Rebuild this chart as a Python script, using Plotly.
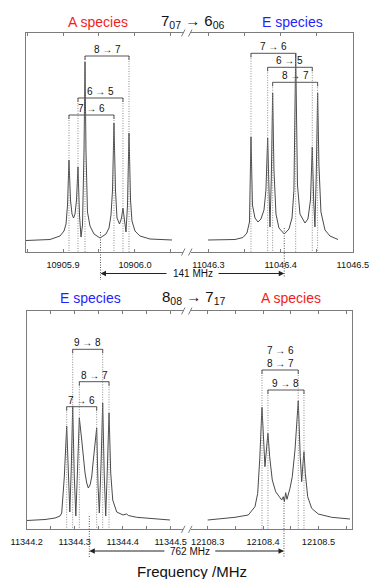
import plotly.graph_objects as go

FONT = "Liberation Sans, Arial, sans-serif"
RED = "#f21d1d"
BLUE = "#1f1fff"
FRAME = "#7c7c7c"
TRACE = "#4a4a4a"
DOT = "#8c8c8c"

# ---- values ----
# 7_07 - 6_06, A species (left half of upper panel)
tl_freq = [10905.8486, 10905.8819, 10905.8958, 10905.9014, 10905.9042, 10905.9063, 10905.9083,
           10905.9104, 10905.9125, 10905.9146, 10905.9167, 10905.9188, 10905.9208, 10905.9229,
           10905.9250, 10905.9271, 10905.9292, 10905.9306, 10905.9319, 10905.9340, 10905.9375,
           10905.9431, 10905.9514, 10905.9597, 10905.9639, 10905.9667, 10905.9688, 10905.9708,
           10905.9729, 10905.9750, 10905.9785, 10905.9813, 10905.9833, 10905.9854, 10905.9875,
           10905.9896, 10905.9917, 10905.9938, 10905.9958, 10906.0000, 10906.0069, 10906.0208,
           10906.0417, 10906.0514]
tl_int = [-0.5, 0.5, 4, 9, 16, 35, 80, 40, 26, 22, 26, 40, 73, 25, 3, 15, 90, 178, 90, 28, 14,
          6, 2, 6, 12, 25, 50, 117, 50, 22, 16, 22, 32, 18, 8, 35, 107, 40, 19, 9, 4, 1, 0, 0]
tl_lines = [10905.9083, 10905.9208, 10905.9306, 10905.9708, 10905.9833, 10905.9917]
tl_pairs = [(0, 3), (1, 4), (2, 5)]
tl_labels = ["7 → 6", "6 → 5", "8 → 7"]
tl_levels = [125, 142, 184]
tl_center = 10905.9521

# 7_07 - 6_06, E species (right half of upper panel)
tr_freq = [11046.2993, 11046.3367, 11046.3478, 11046.3533, 11046.3568, 11046.3589, 11046.3609,
           11046.3644, 11046.3686, 11046.3727, 11046.3769, 11046.3796, 11046.3820, 11046.3838,
           11046.3852, 11046.3870, 11046.3889, 11046.3907, 11046.3935, 11046.3976, 11046.4050,
           11046.4115, 11046.4157, 11046.4184, 11046.4208, 11046.4233, 11046.4267, 11046.4337,
           11046.4378, 11046.4413, 11046.4438, 11046.4457, 11046.4475, 11046.4493, 11046.4512,
           11046.4530, 11046.4558, 11046.4614, 11046.4683, 11046.4794]
tr_int = [0, 0.5, 2.5, 7, 18, 103, 35, 22, 18, 21, 30, 50, 102, 40, 13, 60, 147, 70, 26, 12,
          6, 11, 22, 50, 187, 55, 26, 17, 21, 40, 93, 40, 13, 65, 147, 75, 28, 10, 4, 0.5]
tr_lines = [11046.3589, 11046.3820, 11046.3889, 11046.4208, 11046.4438, 11046.4512]
tr_pairs = [(0, 3), (1, 4), (2, 5)]
tr_labels = ["7 → 6", "6 → 5", "8 → 7"]
tr_levels = [186.7, 172.7, 157.7]
tr_center = 11046.4050

# 8_08 - 7_17, E species (left half of lower panel)
bl_freq = [11344.2000, 11344.2381, 11344.2590, 11344.2694, 11344.2729, 11344.2783, 11344.2833,
           11344.2867, 11344.2898, 11344.2927, 11344.2958, 11344.2990, 11344.3023, 11344.3058,
           11344.3096, 11344.3146, 11344.3179, 11344.3215, 11344.3250, 11344.3283, 11344.3319,
           11344.3354, 11344.3388, 11344.3423, 11344.3458, 11344.3485, 11344.3513, 11344.3548,
           11344.3583, 11344.3615, 11344.3646, 11344.3679, 11344.3715, 11344.3750, 11344.3792,
           11344.3875, 11344.4006, 11344.4083, 11344.4117, 11344.4292, 11344.4569, 11344.4985]
bl_int = [0, 1, 2.5, 4.5, 7.5, 43.5, 94.5, 40.5, 8.5, 50.5, 114.5, 45.5, 4.5, 50.5, 102.5,
          80.5, 63.5, 47.5, 37.5, 32.5, 35.5, 43.5, 60.5, 80.5, 92.5, 35.5, 7.5, 55.5, 117.5,
          45.5, 4.5, 50.5, 107.5, 47.5, 20.5, 8.5, 5.5, 6.5, 5, 3.2, 2, 0.5]
bl_lines = [11344.2833, 11344.2958, 11344.3096, 11344.3458, 11344.3583, 11344.3715]
bl_pairs = [(1, 4), (2, 5), (0, 3)]
bl_labels = ["9 → 8", "8 → 7", "7 → 6"]
bl_levels = [171.2, 138.8, 113.8]
bl_center = 11344.3304

# 8_08 - 7_17, A species (right half of lower panel)
br_freq = [12108.3000, 12108.3493, 12108.3733, 12108.3854, 12108.3903, 12108.3939, 12108.3980,
           12108.4011, 12108.4034, 12108.4065, 12108.4088, 12108.4119, 12108.4166, 12108.4227,
           12108.4287, 12108.4336, 12108.4365, 12108.4383, 12108.4408, 12108.4431, 12108.4486,
           12108.4527, 12108.4576, 12108.4635, 12108.4671, 12108.4697, 12108.4720, 12108.4738,
           12108.4762, 12108.4805, 12108.4877, 12108.4996, 12108.5238, 12108.5569]
br_int = [0.5, 3.2, 5.5, 13.8, 27.2, 60.5, 113.2, 77.2, 53.8, 73.8, 87.2, 63.8, 40.5, 28.8,
          23.8, 20.5, 23.8, 18.8, 27.8, 21.2, 32.2, 43.8, 70.5, 119.5, 63.8, 38.8, 57.2, 68.8,
          47.2, 23.8, 12.2, 6.5, 3.2, 1.5]
br_lines = [12108.3980, 12108.4088, 12108.4635, 12108.4738]
br_pairs = [(0, 2), (1, 3)]
br_labels = ["7 → 6<br>8 → 7", "9 → 8"]
br_levels = [150.5, 130.5]
br_center = 12108.4377

tl_ticks = [10905.85, 10905.9, 10905.95, 10906.0, 10906.05]
tl_ticktext = ["", "10905.9", "", "10906.0", ""]
tr_ticks = [11046.3, 11046.35, 11046.4, 11046.45, 11046.5]
tr_ticktext = ["11046.3", "", "11046.4", "", "11046.5"]
bl_ticks = [11344.2, 11344.25, 11344.3, 11344.35, 11344.4, 11344.45, 11344.5]
bl_ticktext = ["11344.2", "", "11344.3", "", "11344.4", "", "11344.5"]
br_ticks = [12108.3, 12108.35, 12108.4, 12108.45, 12108.5, 12108.55]
br_ticktext = ["12108.3", "", "12108.4", "", "12108.5", ""]

W, H = 370, 579


def px(x):
    return x / W


def py(y):
    return 1 - y / H


top_dom = [py(252), py(33)]
bot_dom = [py(529.3), py(311)]
top_rng = [-12, 207]
bot_rng = [-8.8, 209.5]

panels = [
    dict(n="", freq=tl_freq, inten=tl_int, lines=tl_lines, pairs=tl_pairs, labels=tl_labels,
         levels=tl_levels, dom=top_dom, rng=top_rng),
    dict(n="2", freq=tr_freq, inten=tr_int, lines=tr_lines, pairs=tr_pairs, labels=tr_labels,
         levels=tr_levels, dom=top_dom, rng=top_rng),
    dict(n="3", freq=bl_freq, inten=bl_int, lines=bl_lines, pairs=bl_pairs, labels=bl_labels,
         levels=bl_levels, dom=bot_dom, rng=bot_rng),
    dict(n="4", freq=br_freq, inten=br_int, lines=br_lines, pairs=br_pairs, labels=br_labels,
         levels=br_levels, dom=bot_dom, rng=bot_rng),
]


def ypaper(v, dom, rng):
    return dom[0] + (v - rng[0]) / (rng[1] - rng[0]) * (dom[1] - dom[0])


fig = go.Figure()

for p in panels:
    xr, yr = "x" + p["n"], "y" + p["n"]
    fig.add_trace(go.Scatter(
        x=p["freq"], y=p["inten"], xaxis=xr, yaxis=yr, mode="lines",
        line=dict(color=TRACE, width=1), hoverinfo="skip", showlegend=False,
    ))
    for (a, b), lab, lev in zip(p["pairs"], p["labels"], p["levels"]):
        fa, fb = p["lines"][a], p["lines"][b]
        for f in (fa, fb):
            fig.add_shape(type="line", xref=xr, yref=yr, x0=f, x1=f, y0=lev, y1=p["rng"][0],
                          line=dict(color=DOT, width=1, dash="1px,1.5px"))
            fig.add_shape(type="line", xref=xr, yref=yr, x0=f, x1=f, y0=lev, y1=lev - 4,
                          line=dict(color="#555", width=1))
        fig.add_shape(type="line", xref=xr, yref=yr, x0=fa, x1=fb, y0=lev, y1=lev,
                      line=dict(color="#555", width=1))
        fig.add_annotation(x=(fa + fb) / 2, y=lev, xref=xr, yref=yr, text=lab, showarrow=False,
                           yanchor="bottom", yshift=-1,
                           font=dict(family=FONT, size=10, color="#111"))

# centre (unsplit) frequencies and the splitting arrows
centre_specs = [
    ("x", tl_center, 8, -40, top_dom, top_rng),
    ("x2", tr_center, 12, -38, top_dom, top_rng),
    ("x3", bl_center, 4.5, -36.5, bot_dom, bot_rng),
    ("x4", br_center, 17.5, -36.5, bot_dom, bot_rng),
]
for xr, c, y0, y1, dom, rng in centre_specs:
    fig.add_shape(type="line", xref=xr, yref="paper", x0=c, x1=c,
                  y0=ypaper(y0, dom, rng), y1=ypaper(y1, dom, rng),
                  line=dict(color="#555", width=1, dash="1px,1.5px"))

arrow_specs = [
    ("x", tl_center, 10906.0458, py(273.5)),
    ("x2", tr_center, 11046.3118, py(273.5)),
    ("x3", bl_center, 11344.4900, py(551)),
    ("x4", br_center, 12108.3110, py(551)),
]
for xr, tip, tail, yy in arrow_specs:
    fig.add_annotation(x=tip, y=yy, xref=xr, yref="paper", ax=tail, ay=0, axref=xr,
                       ayref="pixel", showarrow=True, arrowhead=2, arrowsize=1.1,
                       arrowwidth=1, arrowcolor="#222", standoff=0, text="")

texts = [
    ("A species", 98, 21.7, 14, RED),
    ("7<sub>07</sub> → 6<sub>06</sub>", 193, 21, 15, "#111"),
    ("E species", 292, 22, 14, BLUE),
    ("E species", 90, 298, 14, BLUE),
    ("8<sub>08</sub> → 7<sub>17</sub>", 194, 297, 15, "#111"),
    ("A species", 291, 298, 14, RED),
    ("141 MHz", 192.7, 273.5, 10, "#111"),
    ("762 MHz", 189.5, 551, 10, "#111"),
    ("Frequency /MHz", 192, 571, 15, "#111"),
]
for t, x, y, s, c in texts:
    fig.add_annotation(x=px(x), y=py(y), xref="paper", yref="paper", text=t, showarrow=False,
                       xanchor="center", yanchor="middle", font=dict(family=FONT, size=s, color=c))

# axis-break marks
for yb in (33, 252, 311, 529.3):
    for xb in (181.5, 188.5):
        fig.add_shape(type="line", xref="paper", yref="paper",
                      x0=px(xb), x1=px(xb + 3.5), y0=py(yb + 3.5), y1=py(yb - 3.5),
                      line=dict(color=FRAME, width=1))


def xaxis(dom, rng, ticks, text):
    return dict(domain=dom, range=rng, tickvals=ticks, ticktext=text, showline=True,
                linecolor=FRAME, linewidth=1, mirror="ticks", ticks="inside", ticklen=3,
                tickcolor=FRAME, showgrid=False, zeroline=False, fixedrange=True,
                automargin=False, ticklabelstandoff=4,
                tickfont=dict(family=FONT, size=9.2, color="#111"))


def yaxis(dom, rng, anchor, side):
    return dict(domain=dom, range=rng, anchor=anchor, side=side, showline=True,
                linecolor=FRAME, linewidth=1, showticklabels=False, ticks="", showgrid=False,
                zeroline=False, fixedrange=True, automargin=False)


fig.update_layout(
    width=W, height=H,
    margin=dict(l=0, r=0, t=0, b=0, pad=0, autoexpand=False),
    paper_bgcolor="white", plot_bgcolor="white",
    showlegend=False,
    xaxis=dict(xaxis([px(26), px(183)], [10905.8486, 10906.0667], tl_ticks, tl_ticktext), anchor="y"),
    xaxis2=dict(xaxis([px(191), px(353)], [11046.2758, 11046.5002], tr_ticks, tr_ticktext), anchor="y2"),
    xaxis3=dict(xaxis([px(26.7), px(183)], [11344.19995, 11344.5256], bl_ticks, bl_ticktext), anchor="y3"),
    xaxis4=dict(xaxis([px(191), px(352)], [12108.2699, 12108.5605], br_ticks, br_ticktext), anchor="y4"),
    yaxis=yaxis(top_dom, top_rng, "x", "left"),
    yaxis2=yaxis(top_dom, top_rng, "x2", "right"),
    yaxis3=yaxis(bot_dom, bot_rng, "x3", "left"),
    yaxis4=yaxis(bot_dom, bot_rng, "x4", "right"),
)

fig.write_html("out.html", config={"displayModeBar": False},
               post_script="document.body.style.margin='0px';")
